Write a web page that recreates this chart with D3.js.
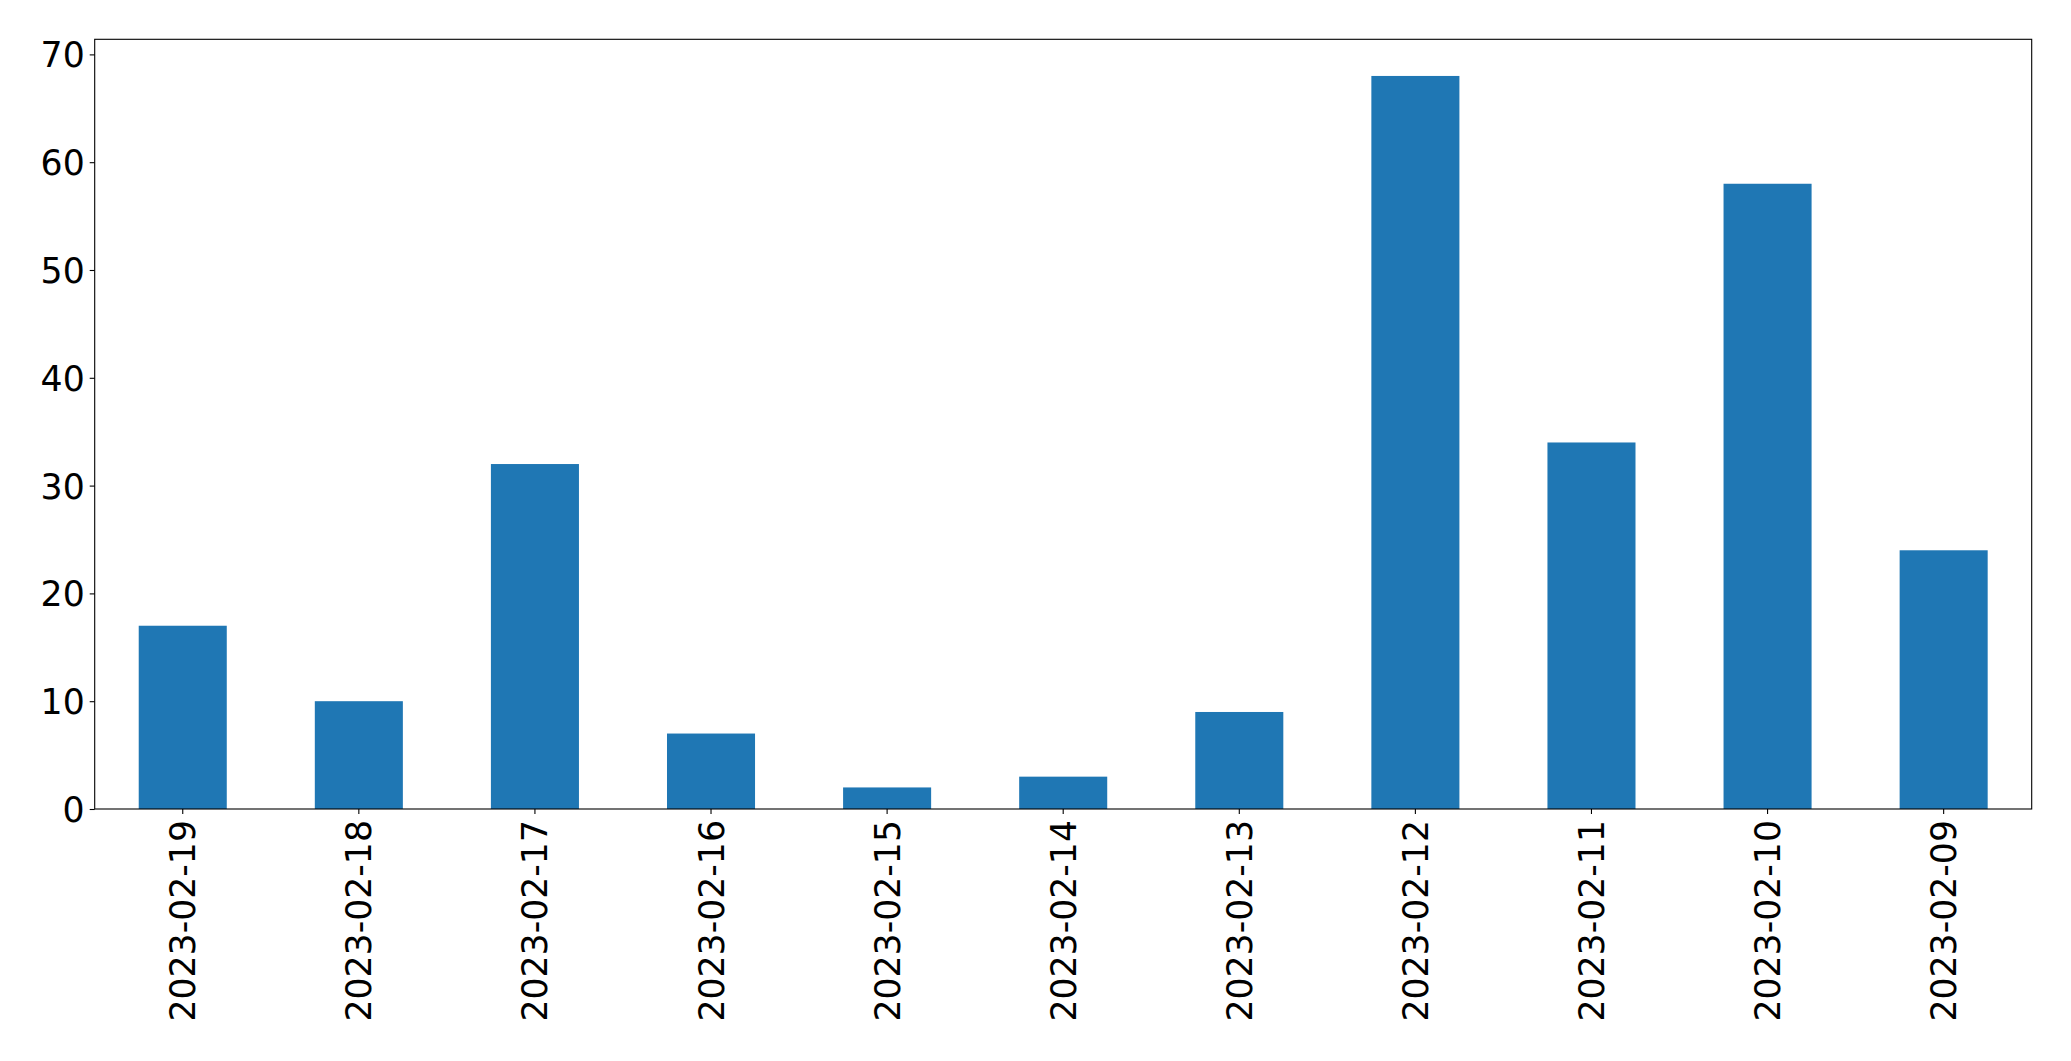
<!DOCTYPE html>
<html>
<head>
<meta charset="utf-8">
<script src="https://cdn.jsdelivr.net/npm/d3@7"></script>
<style>
  html, body { margin: 0; padding: 0; background: #fff; }
  svg { display: block; }
  text { font-family: "DejaVu Sans", sans-serif; fill: #000; }
</style>
</head>
<body>
<script>
const categories = ["2023-02-19","2023-02-18","2023-02-17","2023-02-16","2023-02-15","2023-02-14","2023-02-13","2023-02-12","2023-02-11","2023-02-10","2023-02-09"];
const values = [17, 10, 32, 7, 2, 3, 9, 68, 34, 58, 24];
const yTicks = [0, 10, 20, 30, 40, 50, 60, 70];

const W = 2071, H = 1061;
const mLeft = 94.7, mRight = 2031.7, mTop = 39.3, mBottom = 809;

const svg = d3.select("body").append("svg").attr("width", W).attr("height", H);

const x = d3.scaleBand().domain(categories).range([mLeft, mRight]).paddingInner(0.5).paddingOuter(0.25);
const y = d3.scaleLinear().domain([0, d3.max(values) * 1.05]).range([mBottom, mTop]);

svg.append("g").selectAll("rect").data(values).join("rect")
  .attr("x", (d, i) => x(categories[i]))
  .attr("y", d => y(d))
  .attr("width", x.bandwidth())
  .attr("height", d => y(0) - y(d))
  .attr("fill", "#1f77b4");

const fs = 34.7;

const yAxis = svg.append("g").attr("transform", `translate(${mLeft},0)`)
  .call(d3.axisLeft(y).tickValues(yTicks).tickSize(5).tickPadding(5).tickFormat(d3.format("d")));
yAxis.select(".domain").remove();
yAxis.selectAll("line").attr("stroke", "#000").attr("stroke-width", 1.1);
yAxis.selectAll("text").attr("font-size", fs).attr("font-family", "DejaVu Sans").attr("dy", "0.36em");

const xAxis = svg.append("g").attr("transform", `translate(0,${mBottom})`)
  .call(d3.axisBottom(x).tickSize(5).tickPadding(5));
xAxis.select(".domain").remove();
xAxis.selectAll("line").attr("stroke", "#000").attr("stroke-width", 1.1);
xAxis.selectAll("text")
  .attr("font-size", fs).attr("font-family", "DejaVu Sans")
  .attr("text-anchor", "end")
  .attr("transform", "rotate(-90)")
  .attr("x", -11).attr("y", 0).attr("dy", "0.36em");

svg.append("rect")
  .attr("x", mLeft).attr("y", mTop)
  .attr("width", mRight - mLeft).attr("height", mBottom - mTop)
  .attr("fill", "none").attr("stroke", "#000").attr("stroke-width", 1.1);
</script>
</body>
</html>
